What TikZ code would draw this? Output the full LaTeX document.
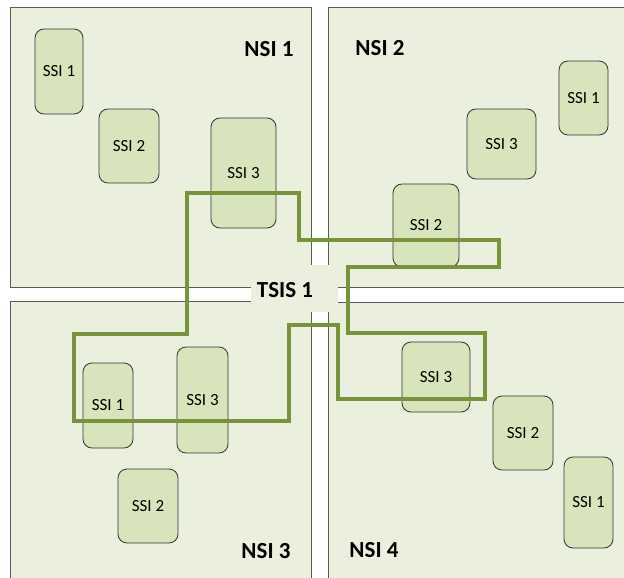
\documentclass[tikz,border=0pt]{standalone}
\usepackage{fontspec}
\setmainfont{Carlito}
\definecolor{quadfill}{HTML}{EBEFDE}
\definecolor{ssifill}{HTML}{D8E4BC}
\definecolor{pathgreen}{HTML}{77933C}
\definecolor{edgegray}{HTML}{595959}
\tikzset{
  quad/.style={draw=edgegray, fill=quadfill, line width=0.9pt},
  ssi/.style={draw=black!80, fill=ssifill, rounded corners=9pt, line width=0.8pt,
    inner sep=0pt, font=\fontsize{17}{17}\selectfont},
  nsi/.style={font=\bfseries\fontsize{23}{23}\selectfont, inner sep=0pt},
  loopline/.style={draw=pathgreen, line width=4pt, line join=miter}
}
\begin{document}
\begin{tikzpicture}[x=1pt,y=-1pt]
\useasboundingbox (0,0) rectangle (624,578);
\clip (0,0) rectangle (624,578);
\fill[white] (0,0) rectangle (624,578);
% quadrants
\draw[quad] (10,7) rectangle (311,287);
\draw[quad] (328,7) rectangle (640,287);
\draw[quad] (10,301) rectangle (311,600);
\draw[quad] (328,302) rectangle (640,600);
% central label background
\fill[quadfill] (251,265) rectangle (338,312);
% SSI boxes NSI 1
\node[ssi, minimum width=48pt, minimum height=85pt] (a1) at (59,71.5) {SSI 1};
\node[ssi, minimum width=60pt, minimum height=74pt] (a2) at (129,146) {SSI 2};
\node[ssi, minimum width=65pt, minimum height=110pt] (a3) at (243.5,173) {SSI 3};
% NSI 2
\node[ssi, minimum width=49pt, minimum height=74pt] (b1) at (583.5,98) {SSI 1};
\node[ssi, minimum width=69pt, minimum height=70pt] (b3) at (501.5,144) {SSI 3};
\node[ssi, minimum width=66pt, minimum height=83pt] (b2) at (426,225.5) {SSI 2};
% NSI 3
\node[ssi, minimum width=50pt, minimum height=85pt] (c1) at (108,405.5) {SSI 1};
\node[ssi, minimum width=51pt, minimum height=106pt] (c3) at (202.5,400) {SSI 3};
\node[ssi, minimum width=60pt, minimum height=74pt] (c2) at (148,506) {SSI 2};
% NSI 4
\node[ssi, minimum width=68pt, minimum height=70pt] (d3) at (436,377) {SSI 3};
\node[ssi, minimum width=60pt, minimum height=74pt] (d2) at (523,433) {SSI 2};
\node[ssi, minimum width=49pt, minimum height=91pt] (d1) at (588.5,502.5) {SSI 1};
% labels
\node[nsi] (n1) at (269,49) {NSI 1};
\node[nsi] (n2) at (380,48) {NSI 2};
\node[nsi] (n3) at (266,551) {NSI 3};
\node[nsi] (n4) at (374,550) {NSI 4};
\node[nsi] (tsis) at (285,290) {TSIS 1};
% TSIS loop
\draw[loopline] (187,193) -- (299,193) -- (299,240) -- (499,240) -- (499,267)
  -- (348,267) -- (348,333) -- (485,333) -- (485,399) -- (338,399) -- (338,325)
  -- (289,325) -- (289,421) -- (74,421) -- (74,334) -- (187,334) -- cycle;
\end{tikzpicture}
\end{document}
